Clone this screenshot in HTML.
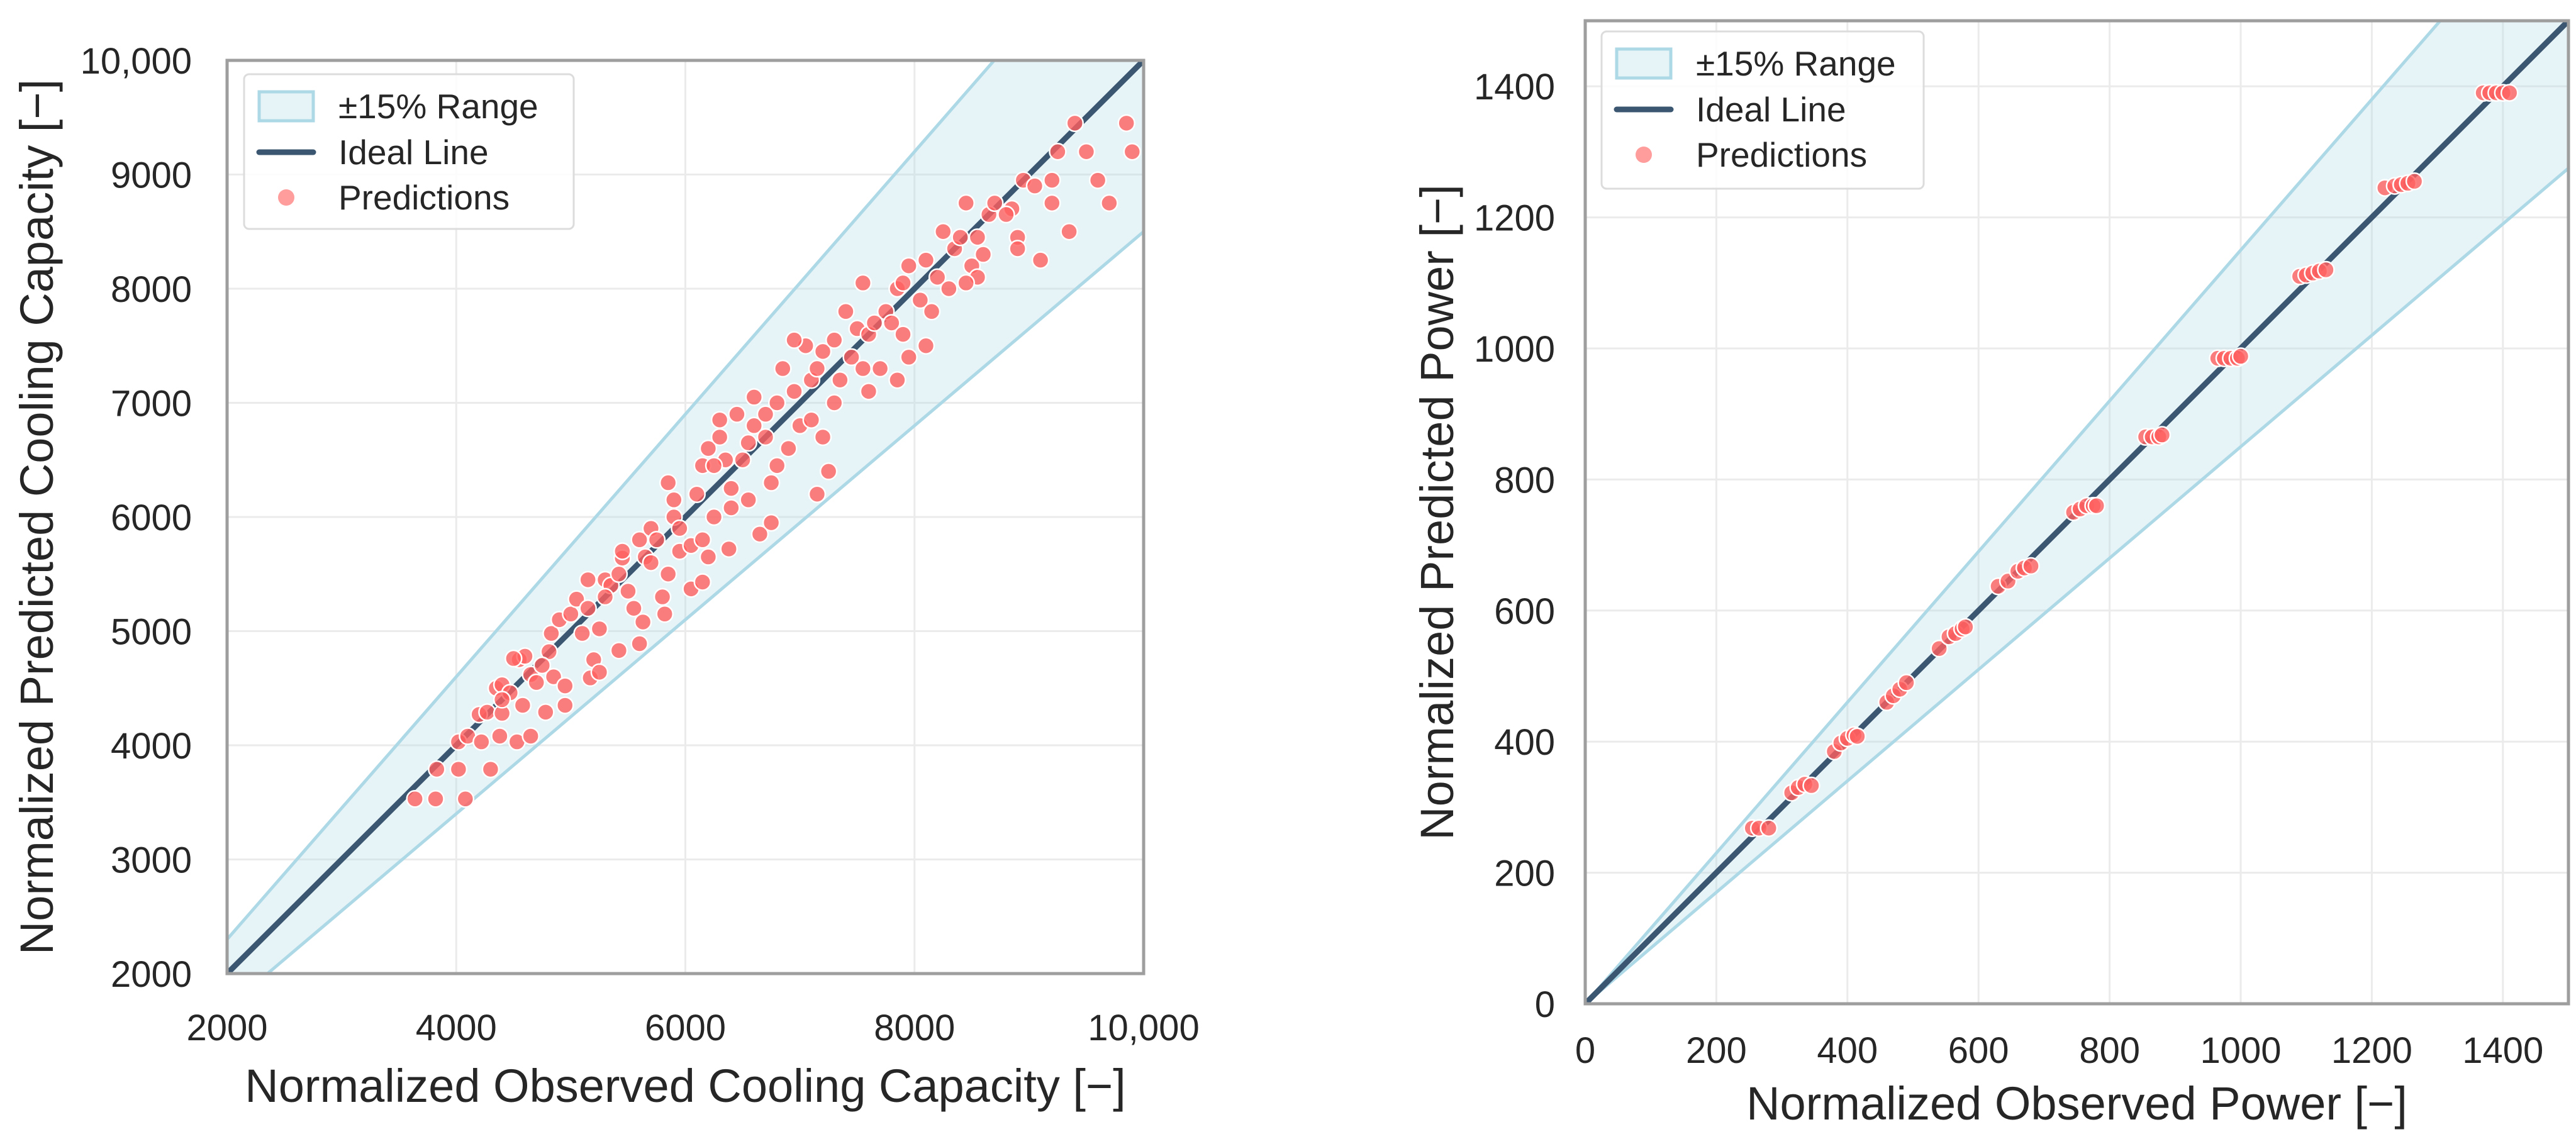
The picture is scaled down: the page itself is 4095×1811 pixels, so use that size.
<!DOCTYPE html>
<html><head><meta charset="utf-8"><style>
html,body{margin:0;padding:0;background:#fff;}
svg text{font-family:"Liberation Sans",Arial,sans-serif;fill:#262626;}
</style></head><body>
<svg id="root" width="4095" height="1806" viewBox="0 0 4095 1806" xmlns="http://www.w3.org/2000/svg">
<defs>
<clipPath id="clipL"><rect x="361" y="96" width="1457" height="1452"/></clipPath>
<clipPath id="clipR"><rect x="2520" y="33" width="1563" height="1563"/></clipPath>
</defs>
<g id="left"></g>
<g id="right"></g>
</svg>
<script>
// ---- Left chart data (Normalized Cooling Capacity) ----
const coolObs = [3640,3820,4080,3830,4020,4300,4020,4100,4220,4380,4530,4650,4200,4270,4400,4350,4400,4470,4580,4780,4950,4550,4600,4650,4700,4810,4830,4850,4950,4900,5000,5050,5100,5150,5200,5170,5250,5250,5300,5350,5300,5420,5450,5420,5600,5500,5550,5600,5650,5700,5750,5800,5630,5820,5850,5900,5850,5900,5950,5950,6050,6050,6150,6150,6100,6150,6200,6250,6300,6300,6350,6400,6200,6380,6400,6550,6500,6550,6600,6600,6700,6700,6750,6800,6800,6650,6750,6850,6900,6950,7000,7050,7100,7100,7150,7200,7200,7250,7300,7350,7400,7450,7500,7550,7550,7600,7600,7700,7750,7800,7850,7900,7950,7950,8050,8100,8100,8150,8200,8300,8350,8400,8450,8500,8550,8600,8650,8700,8850,8900,8950,9100,9200,9200,9250,9350,9400,9500,9600,9700,9850,9900,7850,7900,7650,7300,6950,7150,6450,6250,5700,5450,5150,4750,4500,4400,8250,8450,8550,8800,8900,9050];
const coolPred = [3530,3530,3530,3790,3790,3790,4030,4080,4030,4080,4030,4080,4270,4290,4280,4500,4530,4460,4350,4290,4350,4750,4780,4620,4550,4820,4980,4600,4520,5100,5150,5280,4980,5200,4750,4590,4640,5020,5450,5400,5300,5500,5640,4830,4890,5350,5200,5800,5650,5900,5800,5300,5080,5150,5500,6000,6300,6150,5700,5900,5750,5370,5430,5800,6200,6450,6600,6000,6700,6850,6500,6250,5650,5720,6080,6150,6500,6650,6800,7050,6700,6900,6300,7000,6450,5850,5950,7300,6600,7100,6800,7500,7200,6850,6200,6700,7450,6400,7000,7200,7800,7400,7650,7300,8050,7600,7100,7300,7800,7700,8000,7600,8200,7400,7900,7500,8250,7800,8100,8000,8350,8450,8750,8200,8100,8300,8650,8750,8700,8450,8950,8250,8950,8750,9200,8500,9450,9200,8950,8750,9450,9200,7200,8050,7700,7550,7550,7300,6900,6450,5600,5700,5450,4700,4760,4400,8500,8050,8450,8650,8350,8900];
const coolTicks = [2000,4000,6000,8000,10000];
const coolTickLabels = ["2000","4000","6000","8000","10,000"];
const coolYTicks = [2000,3000,4000,5000,6000,7000,8000,9000,10000];
const coolYTickLabels = ["2000","3000","4000","5000","6000","7000","8000","9000","10,000"];

// ---- Right chart data (Normalized Power) ----
const powObs = [255,265,280,315,325,335,345,380,390,400,410,415,460,470,480,490,540,555,565,575,580,630,645,660,670,680,745,755,765,775,780,855,865,875,880,965,975,985,995,1000,1090,1100,1110,1120,1130,1220,1235,1245,1255,1265,1370,1380,1390,1400,1410];
const powPred = [268,268,268,322,330,335,333,385,398,405,410,408,460,470,480,490,542,560,565,572,575,637,645,660,665,668,750,755,760,760,760,865,865,865,868,985,985,985,985,988,1110,1112,1115,1118,1120,1245,1248,1250,1252,1255,1390,1390,1390,1390,1390];
const powTicks = [0,200,400,600,800,1000,1200,1400];

const NS = "http://www.w3.org/2000/svg";
function mk(parent, tag, attrs){ const e=document.createElementNS(NS,tag); for(const k in attrs) e.setAttribute(k,attrs[k]); parent.appendChild(e); return e; }

function drawChart(g, cfg){
  const {x0,x1,y0,y1,dmin,dmax,obs,pred,xt,xtl,yt,ytl,clip,xTitle,yTitle,xLabY,yLabX,xTitleY,yTitleX,leg} = cfg;
  const sx = v => x0 + (v-dmin)/(dmax-dmin)*(x1-x0);
  const sy = v => y1 - (v-dmin)/(dmax-dmin)*(y1-y0);
  xt.forEach((v,i)=>{
    const l = mk(g,'line',{x1:sx(v),x2:sx(v),y1:y0,y2:y1,stroke:'#ebebeb','stroke-width':3});
    
    
    const t = mk(g,'text',{x:sx(v),y:xLabY,'text-anchor':'middle','font-size':58});
    t.textContent = xtl[i];
    
    
  });
  yt.forEach((v,i)=>{
    const l = mk(g,'line',{x1:x0,x2:x1,y1:sy(v),y2:sy(v),stroke:'#ebebeb','stroke-width':3});
    
    
    const t = mk(g,'text',{x:yLabX,y:sy(v)+21,'text-anchor':'end','font-size':58});
    t.textContent = ytl[i];
    
    
  });
  const cg = mk(g,'g',{'clip-path':'url(#'+clip+')'});
  const lo=dmin, hi=dmax*1.5;
  const band = mk(cg,'polygon',{points:`${sx(lo)},${sy(lo*1.15)} ${sx(hi)},${sy(hi*1.15)} ${sx(hi)},${sy(hi*0.85)} ${sx(lo)},${sy(lo*0.85)}`,fill:'#add8e6','fill-opacity':0.3});
  
  
  const bu = mk(cg,'line',{x1:sx(lo),y1:sy(lo*1.15),x2:sx(hi),y2:sy(hi*1.15),stroke:'#add8e6','stroke-width':5});
  
  
  const bl = mk(cg,'line',{x1:sx(lo),y1:sy(lo*0.85),x2:sx(hi),y2:sy(hi*0.85),stroke:'#add8e6','stroke-width':5});
  
  
  const il = mk(cg,'line',{x1:sx(dmin),y1:sy(dmin),x2:sx(dmax),y2:sy(dmax),stroke:'#3b5670','stroke-width':9});
  
  
  obs.forEach((v,i)=>{
    const c = mk(cg,'circle',{cx:sx(v),cy:sy(pred[i]),r:13,fill:'#ff5f5f','fill-opacity':0.8,stroke:'#fff','stroke-width':2.5});
    
    
  });
  const fr = mk(g,'rect',{x:x0,y:y0,width:x1-x0,height:y1-y0,fill:'none',stroke:'#9e9e9e','stroke-width':5});
  
  
  const xtit = mk(g,'text',{x:(x0+x1)/2,y:xTitleY,'text-anchor':'middle','font-size':74});
  xtit.textContent = xTitle;
  
  
  const ytit = mk(g,'text',{x:0,y:0,'text-anchor':'middle','font-size':74,transform:`translate(${yTitleX},${(y0+y1)/2}) rotate(-90)`});
  ytit.textContent = yTitle;
  
  
  const lg = mk(g,'g',{});
  
  
  mk(lg,'rect',{x:leg.x,y:leg.y,width:leg.w,height:leg.h,rx:8,fill:'#fff','fill-opacity':0.85,stroke:'#dcdcdc','stroke-width':3});
  const ex = leg.x+24, tx = leg.x+150;
  const sw = mk(lg,'rect',{x:ex,y:leg.y+28,width:86,height:46,fill:'#e6f4f8',stroke:'#add8e6','stroke-width':5});
  
  
  const t1 = mk(lg,'text',{x:tx,y:leg.y+70,'font-size':55}); t1.textContent='±15% Range';
  
  
  const ln = mk(lg,'line',{x1:ex,x2:ex+86,y1:leg.y+124,y2:leg.y+124,stroke:'#3b5670','stroke-width':9,'stroke-linecap':'round'});
  
  
  const t2 = mk(lg,'text',{x:tx,y:leg.y+143,'font-size':55}); t2.textContent='Ideal Line';
  
  
  const mc = mk(lg,'circle',{cx:ex+43,cy:leg.y+196,r:13,fill:'#ff9c9c'});
  
  
  const t3 = mk(lg,'text',{x:tx,y:leg.y+215,'font-size':55}); t3.textContent='Predictions';
  
  
}

drawChart(document.getElementById('left'),{
  x0:361,x1:1818,y0:96,y1:1548,dmin:2000,dmax:10000,obs:coolObs,pred:coolPred,
  xt:coolTicks,xtl:coolTickLabels,yt:coolYTicks,ytl:coolYTickLabels,clip:'clipL',
  xTitle:'Normalized Observed Cooling Capacity [\u2212]',yTitle:'Normalized Predicted Cooling Capacity [\u2212]',
  xLabY:1654,yLabX:305,xTitleY:1752,yTitleX:84,leg:{x:388,y:118,w:524,h:246}
});
drawChart(document.getElementById('right'),{
  x0:2520,x1:4083,y0:33,y1:1596,dmin:0,dmax:1500,obs:powObs,pred:powPred,
  xt:powTicks,xtl:powTicks.map(String),yt:powTicks,ytl:powTicks.map(String),clip:'clipR',
  xTitle:'Normalized Observed Power [\u2212]',yTitle:'Normalized Predicted Power [\u2212]',
  xLabY:1690,yLabX:2472,xTitleY:1780,yTitleX:2310,leg:{x:2546,y:50,w:512,h:250}
});
</script>
</body></html>
